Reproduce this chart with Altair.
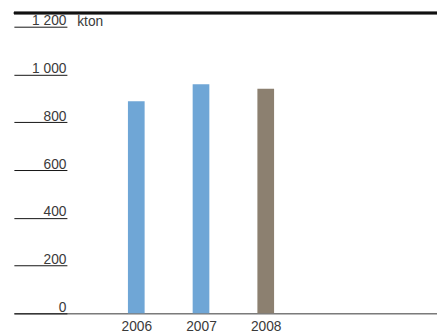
import altair as alt
import pandas as pd

years = [2006, 2007, 2008]
values = [888, 959, 941]
colors = ["#6fa6d6", "#6fa6d6", "#8c8070"]
y_ticks = [0, 200, 400, 600, 800, 1000, 1200]

df = pd.DataFrame({"year": years, "value": values, "color": colors})

W, H = 431, 306
FONT = "Liberation Sans"
TXT = "#3a3a3a"

x_scale = alt.Scale(domain=[2004.185, 2010.57], nice=False, zero=False)
y_scale = alt.Scale(domain=[0, 1258], nice=False)

bars = alt.Chart(df).mark_bar(size=17).encode(
    x=alt.X("year:Q", scale=x_scale,
            axis=alt.Axis(values=years, format="d", title=None, ticks=False,
                          grid=False, domain=True, domainColor="#333333",
                          domainWidth=1, labelFontSize=14, labelFont=FONT,
                          labelColor=TXT, labelPadding=6,
                          labelFlush=False, labelOverlap=False)),
    y=alt.Y("value:Q", scale=y_scale,
            axis=alt.Axis(values=y_ticks, title="kton", titleAngle=0,
                          titleAlign="left", titleBaseline="alphabetic",
                          titleX=10, titleY=13, titleFont=FONT,
                          titleFontSize=14, titleFontWeight="normal",
                          titleColor=TXT, domain=False, grid=False,
                          offset=-54, tickSize=54, tickColor="#111111",
                          tickWidth=1, labelPadding=-53,
                          labelBaseline="alphabetic", labelOffset=-2,
                          labelAlign="right", labelFont=FONT,
                          labelFontSize=14, labelColor=TXT,
                          labelOverlap=False,
                          labelExpr="replace(format(datum.value, ','), ',', ' ')")),
    color=alt.Color("color:N", scale=None),
)

top_rule = alt.Chart(df).mark_rule(color="#111111", strokeWidth=2.5).encode(
    x=alt.value(0), x2=alt.value(W), y=alt.value(0)
)

chart = alt.layer(bars, top_rule).properties(
    width=W, height=H,
    autosize=alt.AutoSizeParams(type="none"),
    padding={"left": 6, "top": 2, "right": 0, "bottom": 20},
).configure_view(stroke=None)

chart.save("out.html", embed_options={"renderer": "svg", "actions": False})
